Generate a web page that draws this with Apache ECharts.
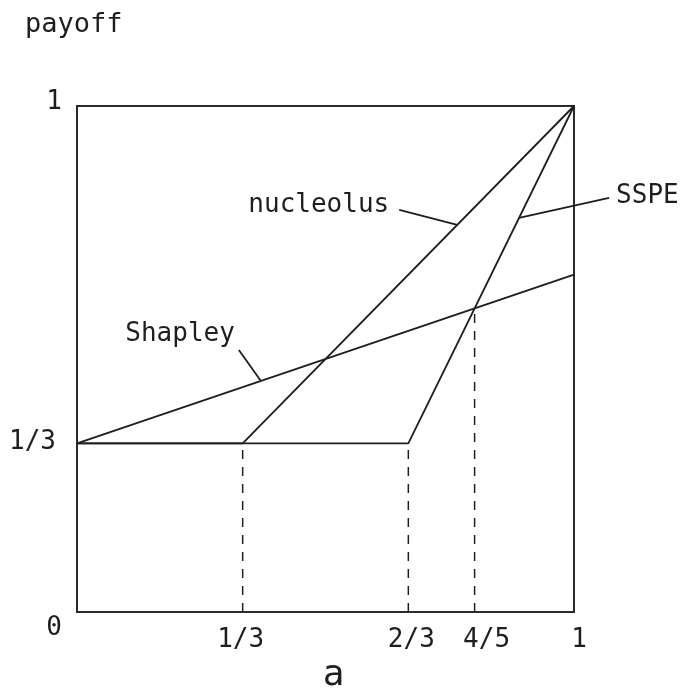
<!DOCTYPE html>
<html>
<head>
<meta charset="utf-8">
<title>payoff vs a</title>
<script src="https://cdn.jsdelivr.net/npm/echarts@6/dist/echarts.min.js"></script>
<style>
  html, body { margin: 0; padding: 0; background: #fff; }
  #chart { width: 680px; height: 693px; }
</style>
</head>
<body>
<div id="chart"></div>
<script>
// Payoff of the strong player as a function of a
const nucleolusA = [0, 1 / 3, 1];
const nucleolusPayoff = [1 / 3, 1 / 3, 1];
const sspeA = [0, 2 / 3, 1];
const sspePayoff = [1 / 3, 1 / 3, 1];
const shapleyA = [0, 1];
const shapleyPayoff = [1 / 3, 2 / 3];

// Dashed guides from the a-axis up to the kink / crossing points
const guideA = [1 / 3, 2 / 3, 4 / 5];
const guideTop = [1 / 3, 1 / 3, 3 / 5];

// Tick labels
const xTickValues = [1 / 3, 2 / 3, 4 / 5, 1];
const xTickLabels = ['1/3', '2/3', '4/5', '1'];
const yTickValues = [0, 1 / 3, 1];
const yTickLabels = ['0', '1/3', '1'];

// Callout labels: name and the point on its curve that the leader touches
const calloutNames = ['nucleolus', 'SSPE', 'Shapley'];
const calloutA = [0.765, 0.8895, 0.37];
const calloutPayoff = [0.765, 0.779, 0.4567];

const INK = '#1e1e1e';
const FONT = '"DejaVu Sans Mono", monospace';

function pairs(xs, ys) { return xs.map((x, i) => [x, ys[i]]); }

// leader end offset (lx, ly) and text anchor offset (tx, ty), in pixels
const calloutGeom = [
  { lx: -58, ly: -15, tx: -68, ty: -20, align: 'right' },
  { lx: 90, ly: -20, tx: 97, ty: -22, align: 'left' },
  { lx: -22, ly: -31, tx: -26, ty: -47, align: 'right' }
];

const curveStyle = { color: INK, width: 1.8 };
const guideStyle = { color: INK, width: 1.5, type: [9, 8] };

const series = [
  { name: 'nucleolus', data: pairs(nucleolusA, nucleolusPayoff) },
  { name: 'SSPE', data: pairs(sspeA, sspePayoff) },
  { name: 'Shapley', data: pairs(shapleyA, shapleyPayoff) }
].map(s => ({
  type: 'line', name: s.name, data: s.data, symbol: 'none',
  lineStyle: curveStyle, silent: true, z: 3
}));

guideA.forEach((a, i) => {
  series.push({
    type: 'line', data: [[a, 0], [a, guideTop[i]]], symbol: 'none',
    lineStyle: guideStyle, silent: true, z: 2
  });
});

series.push({
  type: 'custom',
  data: calloutNames.map((n, i) => [calloutA[i], calloutPayoff[i]]),
  silent: true,
  z: 4,
  renderItem(params, api) {
    const p = api.coord([api.value(0), api.value(1)]);
    const g = calloutGeom[params.dataIndex];
    return {
      type: 'group',
      children: [
        {
          type: 'line',
          shape: { x1: p[0], y1: p[1], x2: p[0] + g.lx, y2: p[1] + g.ly },
          style: { stroke: INK, lineWidth: 1.8 }
        },
        {
          type: 'text',
          x: p[0] + g.tx, y: p[1] + g.ty,
          style: {
            text: calloutNames[params.dataIndex],
            fill: INK, fontSize: 26, fontFamily: FONT,
            align: g.align, verticalAlign: 'middle'
          }
        }
      ]
    };
  }
});

const xRich = {
  t0: { fontSize: 26, fontFamily: FONT, color: INK, padding: [0, 4, 0, 0] },
  t1: { fontSize: 26, fontFamily: FONT, color: INK, padding: [0, 0, 0, 6] },
  t2: { fontSize: 26, fontFamily: FONT, color: INK, padding: [0, 0, 0, 24] },
  t3: { fontSize: 26, fontFamily: FONT, color: INK, padding: [0, 0, 14, 10] }
};
const yRich = {
  t0: { fontSize: 26, fontFamily: FONT, color: INK, padding: [32, 0, 0, 0] },
  t1: { fontSize: 26, fontFamily: FONT, color: INK, padding: [0, 6, 2, 0] },
  t2: { fontSize: 26, fontFamily: FONT, color: INK, padding: [0, 0, 8, 0] }
};

function tickIndex(values, v) {
  return values.findIndex(t => Math.abs(t - v) < 1e-6);
}

const option = {
  animation: false,
  backgroundColor: '#fff',
  title: {
    text: 'payoff',
    left: 20, top: 6,
    textStyle: { fontSize: 27, fontFamily: FONT, fontWeight: 'normal', color: INK }
  },
  grid: {
    left: 77, right: 106, top: 106, bottom: 81,
    show: true, borderColor: '#2a2a2a', borderWidth: 2,
    outerBoundsMode: 'none'
  },
  xAxis: {
    type: 'value', min: 0, max: 1,
    name: 'a', nameLocation: 'middle', nameGap: 46,
    nameTextStyle: { fontSize: 36, fontFamily: FONT, color: INK, padding: [0, 0, 0, 16] },
    axisLine: { show: false }, axisTick: { show: false }, splitLine: { show: false },
    axisLabel: {
      customValues: xTickValues,
      margin: 15,
      formatter: v => {
        const i = tickIndex(xTickValues, v);
        return i < 0 ? '' : '{t' + i + '|' + xTickLabels[i] + '}';
      },
      rich: xRich
    }
  },
  yAxis: {
    type: 'value', min: 0, max: 1,
    axisLine: { show: false }, axisTick: { show: false }, splitLine: { show: false },
    axisLabel: {
      customValues: yTickValues,
      margin: 15,
      formatter: v => {
        const i = tickIndex(yTickValues, v);
        return i < 0 ? '' : '{t' + i + '|' + yTickLabels[i] + '}';
      },
      rich: yRich
    }
  },
  series
};

const chart = echarts.init(document.getElementById('chart'), null, { renderer: 'canvas' });
chart.setOption(option);
</script>
</body>
</html>
